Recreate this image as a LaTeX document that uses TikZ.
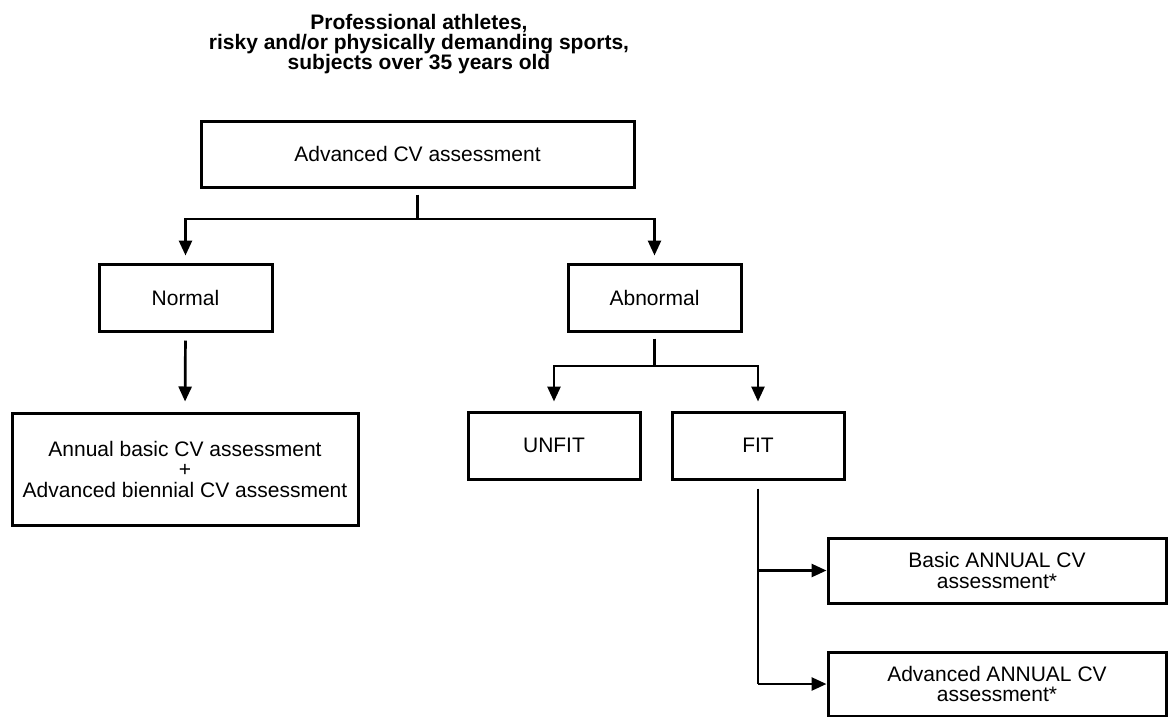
\documentclass[tikz,border=0pt]{standalone}
\usepackage{fontspec}
\setmainfont{Liberation Sans}
\usetikzlibrary{arrows.meta}
\tikzset{
  box/.style={draw=black, line width=3pt, rectangle, inner sep=0pt, align=center,
    font=\fontsize{21pt}{20.5pt}\selectfont},
  link/.style={draw=black, line width=2.7pt},
  arr/.style={link, -{Triangle[length=15pt,width=13pt]}},
}
\begin{document}
\begin{tikzpicture}[x=1pt,y=-1pt]
\useasboundingbox (0,0) rectangle (1168,716);
\node[align=center, font=\fontsize{21pt}{20pt}\selectfont\bfseries] (title) at (419,44)
  {Professional athletes,\\risky and/or physically demanding sports,\\subjects over 35 years old};
\node[box, minimum width=433pt, minimum height=66pt] (adv) at (417.5,154) {Advanced CV assessment};
\node[box, minimum width=173pt, minimum height=67pt] (normal) at (185.5,297.5) {Normal};
\node[box, minimum width=173pt, minimum height=67pt] (abn) at (654.5,297.5) {Abnormal};
\node[box, minimum width=346pt, minimum height=112pt] (annual) at (185,469)
  {Annual basic CV assessment\\+\\Advanced biennial CV assessment};
\node[box, minimum width=172pt, minimum height=67pt] (unfit) at (554,445.5) {UNFIT};
\node[box, minimum width=172pt, minimum height=67pt] (fit) at (758,445.5) {FIT};
\node[box, minimum width=338pt, minimum height=65pt] (basic) at (997,570.5) {Basic ANNUAL CV\\assessment*};
\node[box, minimum width=338pt, minimum height=64pt] (advann) at (997,684) {Advanced ANNUAL CV\\assessment*};
\coordinate (j1) at (adv.south |- 0,219);
\coordinate (j2) at (abn.south |- 0,366);
\draw[link, shorten <=6pt] (adv.south) -- (j1);
\draw[arr, shorten >=7pt] (j1) -| (normal.north);
\draw[arr, shorten >=7pt] (j1) -| (abn.north);
\draw[arr, shorten <=8pt, shorten >=10pt] (normal.south) -- (annual.north);
\draw[link, shorten <=6pt] (abn.south) -- (j2);
\draw[arr, shorten >=9pt] (j2) -| (unfit.north);
\draw[arr, shorten >=9pt] (j2) -| (fit.north);
\coordinate (f1) at (fit.south |- basic.west);
\coordinate (f2) at (fit.south |- advann.west);
\draw[link, shorten <=8pt] (fit.south) -- (f2);
\draw[arr] (f1) -- (basic.west);
\draw[arr] (f2) -- (advann.west);
\end{tikzpicture}
\end{document}
